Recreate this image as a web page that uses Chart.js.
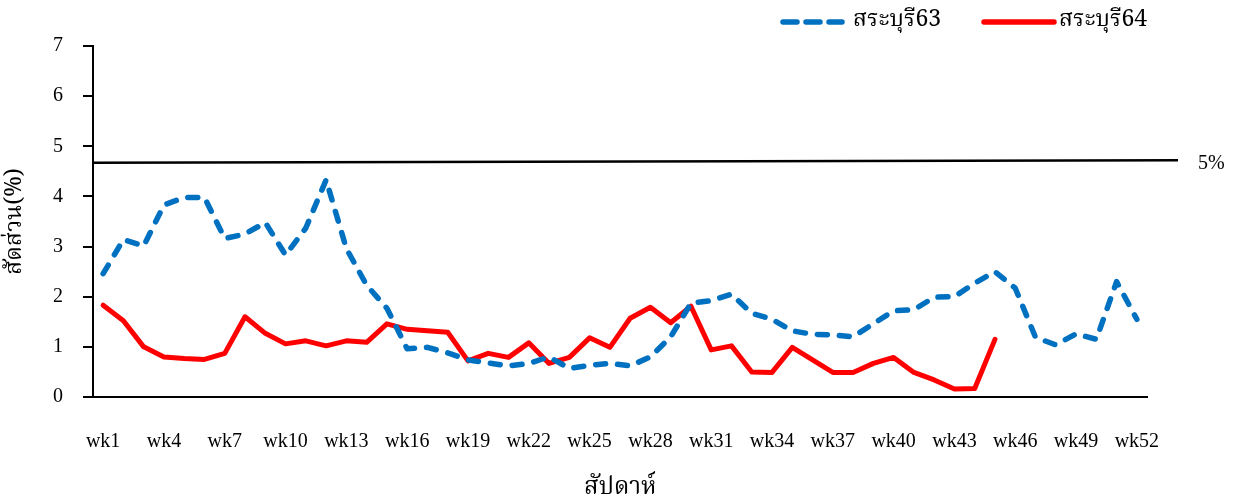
<!DOCTYPE html>
<html><head><meta charset="utf-8">
<script src="https://cdn.jsdelivr.net/npm/chart.js@4.4.1/dist/chart.umd.min.js"></script>
<style>html,body{margin:0;padding:0;background:#fff;}canvas{display:block;}</style>
</head><body>
<canvas id="c" width="1243" height="501"></canvas>
<script>
const weeks = ['wk1','wk2','wk3','wk4','wk5','wk6','wk7','wk8','wk9','wk10','wk11','wk12','wk13','wk14','wk15','wk16','wk17','wk18','wk19','wk20','wk21','wk22','wk23','wk24','wk25','wk26','wk27','wk28','wk29','wk30','wk31','wk32','wk33','wk34','wk35','wk36','wk37','wk38','wk39','wk40','wk41','wk42','wk43','wk44','wk45','wk46','wk47','wk48','wk49','wk50','wk51','wk52'];
const saraburi63 = [2.46,3.14,3.01,3.83,3.98,3.98,3.16,3.25,3.48,2.83,3.37,4.33,2.96,2.23,1.77,0.96,0.99,0.88,0.74,0.68,0.62,0.67,0.80,0.57,0.63,0.67,0.62,0.80,1.20,1.87,1.92,2.05,1.67,1.55,1.32,1.25,1.24,1.20,1.46,1.72,1.74,1.99,2.00,2.27,2.50,2.17,1.19,1.04,1.26,1.15,2.30,1.55];
const saraburi64 = [1.83,1.52,1.00,0.80,0.77,0.75,0.87,1.60,1.27,1.06,1.12,1.02,1.12,1.09,1.46,1.35,1.32,1.29,0.72,0.87,0.79,1.08,0.67,0.79,1.18,0.99,1.57,1.79,1.48,1.81,0.94,1.02,0.50,0.49,0.99,0.74,0.49,0.49,0.67,0.79,0.49,0.34,0.16,0.17,1.15,null,null,null,null,null,null,null];
const seriesNames = ['สระบุรี63','สระบุรี64'];
const thresholdLine = [4.67, 4.72];
const thresholdLabel = '5%';
const yTicks = [0,1,2,3,4,5,6,7];

const SERIF = '"Liberation Serif","Times New Roman",serif';
const THAI = '"Norasi","Noto Serif Thai","Laksaman","TH Sarabun New","Loma","Garuda","Liberation Serif",serif';
const BLUE = '#0070C0', RED = '#FF0000';

const extras = {
  id: 'extras',
  afterDatasetsDraw(chart) {
    const {ctx, chartArea, scales} = chart;
    const y = scales.y;
    ctx.save();
    ctx.strokeStyle = '#000';
    ctx.lineWidth = 2.5;
    ctx.beginPath();
    ctx.moveTo(chartArea.left, y.getPixelForValue(thresholdLine[0]));
    ctx.lineTo(chartArea.right + 31, y.getPixelForValue(thresholdLine[1]));
    ctx.stroke();
    ctx.fillStyle = '#000';
    ctx.font = '20px ' + SERIF;
    ctx.textBaseline = 'middle';
    ctx.textAlign = 'left';
    ctx.fillText(thresholdLabel, chartArea.right + 51, y.getPixelForValue(thresholdLine[1]) + 3);
    const ly = 22;
    ctx.lineCap = 'round';
    ctx.lineWidth = 5.5;
    ctx.strokeStyle = BLUE;
    ctx.setLineDash([14, 9]);
    ctx.beginPath(); ctx.moveTo(783, ly); ctx.lineTo(842, ly); ctx.stroke();
    ctx.setLineDash([]);
    ctx.strokeStyle = RED;
    ctx.beginPath(); ctx.moveTo(984, ly); ctx.lineTo(1054, ly); ctx.stroke();
    ctx.font = '23px ' + THAI;
    ctx.fillStyle = '#000';
    ctx.fillText(seriesNames[0], 853, ly);
    ctx.fillText(seriesNames[1], 1059, ly);
    ctx.restore();
  }
};

new Chart(document.getElementById('c'), {
  type: 'line',
  data: {
    labels: weeks,
    datasets: [
      { label: seriesNames[0], data: saraburi63, borderColor: BLUE, borderWidth: 5.5, borderDash: [10, 12], borderCapStyle: 'round', borderJoinStyle: 'round', pointRadius: 0, tension: 0, fill: false },
      { label: seriesNames[1], data: saraburi64, borderColor: RED, borderWidth: 5, borderCapStyle: 'round', borderJoinStyle: 'round', pointRadius: 0, tension: 0, fill: false, spanGaps: false }
    ]
  },
  options: {
    responsive: false,
    animation: false,
    layout: { padding: { top: 46, right: 96, left: 0, bottom: 0 } },
    plugins: { legend: { display: false }, tooltip: { enabled: false } },
    scales: {
      x: {
        offset: true,
        grid: { display: false, drawTicks: false },
        border: { display: true, color: '#000', width: 2 },
        ticks: {
          autoSkip: false, maxRotation: 0, minRotation: 0, padding: 33,
          color: '#000', font: { family: SERIF, size: 20 },
          callback: function(v, i) { return i % 3 === 0 ? weeks[i] : ''; }
        },
        title: { display: true, text: 'สัปดาห์', color: '#000', font: { family: THAI, size: 24, lineHeight: 0.95 }, padding: { top: 14, bottom: 0 } },
        afterFit(s) { s.height = 104; }
      },
      y: {
        min: 0, max: 7,
        afterBuildTicks(s) { s.ticks = yTicks.map(v => ({ value: v })); },
        grid: { display: true, drawOnChartArea: false, drawTicks: true, tickLength: 10, color: '#000', lineWidth: 2 },
        border: { display: true, color: '#000', width: 2 },
        ticks: { padding: 20, color: '#000', font: { family: SERIF, size: 20 } },
        title: { display: true, text: 'สัดส่วน(%)', color: '#000', font: { family: THAI, size: 23 }, padding: { top: 3, bottom: 0 } },
        afterFit(s) { s.width = 93; }
      }
    }
  },
  plugins: [extras]
});
</script>
</body></html>
